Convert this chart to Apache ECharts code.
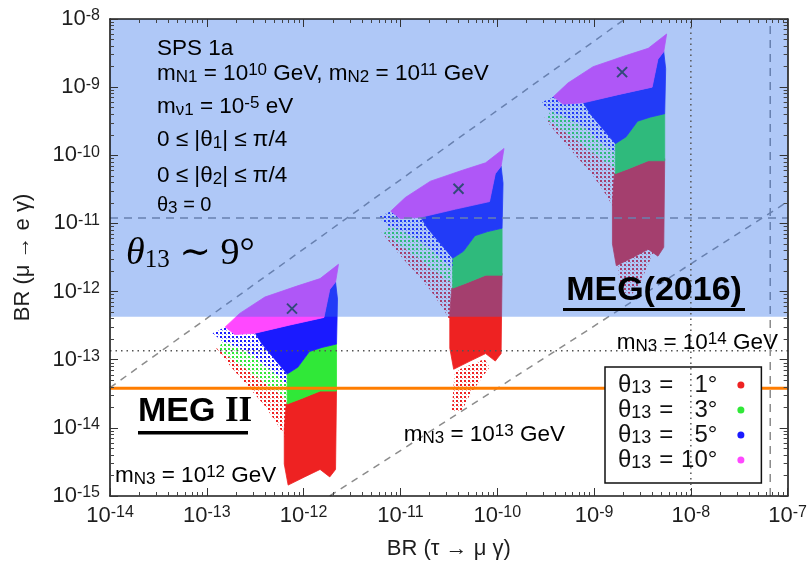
<!DOCTYPE html>
<html><head><meta charset="utf-8">
<script src="https://cdn.jsdelivr.net/npm/echarts@6/dist/echarts.min.js"></script>
<style>html,body{margin:0;padding:0;background:#fff}#c{width:810px;height:570px}</style>
</head><body><div id="c"></div>
<script>
// ---- axis ticks (log10 exponents) ----
const xTickExp = [-14,-13,-12,-11,-10,-9,-8,-7];
const yTickExp = [-15,-14,-13,-12,-11,-10,-9,-8];
const legendNames = ['1°','3°','5°','10°'];

// ---- limits / reference levels (log10 BR) ----
const meg2016Limit = -12.37;   // MEG(2016) 4.2e-13
const meg2Sens = -13.42;       // MEG II
const meg2009Limit = -10.92;   // dashed 1.2e-11
const muDottedLevel = -12.87;  // dotted
const tauDottedLevel = -8.0;   // dotted vertical
const tauDashedLevel = -7.18;  // dashed vertical
const diagUpper = [[-14,-13.41],[-8.68,-8.0]];
const diagLower = [[-11.73,-15],[-7,-10.68]];
const clusterMarkers = [[-12.12,-12.25],[-10.40,-10.49],[-8.71,-8.78]];

// ---- cluster 1 : m_N3 = 10^12 GeV ----
const magenta1 = [[-12.81,-12.52],[-12.66,-12.32],[-12.40,-12.08],[-12.07,-11.92],[-11.83,-11.81],[-11.64,-11.60],[-11.67,-11.86],[-11.73,-11.97],[-11.79,-12.38],[-12.14,-12.49],[-12.50,-12.61],[-12.71,-12.63]];
const blue1 = [[-12.50,-12.61],[-12.14,-12.49],[-11.79,-12.38],[-11.73,-11.97],[-11.67,-11.86],[-11.65,-12.11],[-11.66,-12.77],[-11.81,-12.82],[-11.94,-12.88],[-12.06,-13.11],[-12.17,-13.21],[-12.30,-12.99],[-12.43,-12.77]];
const green1 = [[-12.17,-13.21],[-12.06,-13.11],[-11.94,-12.88],[-11.81,-12.82],[-11.66,-12.77],[-11.66,-13.46],[-11.83,-13.46],[-12.04,-13.58],[-12.17,-13.65]];
const red1 = [[-12.18,-13.65],[-12.04,-13.58],[-11.83,-13.46],[-11.66,-13.43],[-11.67,-14.61],[-11.73,-14.72],[-11.83,-14.61],[-11.99,-14.72],[-12.16,-14.84],[-12.20,-14.53],[-12.20,-14.02]];
const fanBlue1 = [[-12.94,-12.61],[-12.81,-12.52],[-12.71,-12.63],[-12.50,-12.61],[-12.43,-12.77],[-12.30,-12.99],[-12.17,-13.21],[-12.17,-13.36],[-12.33,-13.17],[-12.50,-12.96],[-12.68,-12.82],[-12.84,-12.73]];
const fanGreen1 = [[-12.84,-12.73],[-12.68,-12.82],[-12.50,-12.96],[-12.33,-13.17],[-12.17,-13.36],[-12.17,-13.58],[-12.35,-13.40],[-12.53,-13.20],[-12.71,-13.02],[-12.88,-12.85]];
const fanRed1 = [[-12.88,-12.85],[-12.71,-13.02],[-12.53,-13.20],[-12.35,-13.40],[-12.17,-13.58],[-12.18,-14.17],[-12.27,-13.95],[-12.40,-13.68],[-12.55,-13.43],[-12.73,-13.14],[-12.91,-12.82]];

// ---- cluster 2 : m_N3 = 10^13 GeV ----
const magenta2 = [[-11.10,-10.82],[-10.95,-10.62],[-10.69,-10.38],[-10.36,-10.22],[-10.12,-10.11],[-9.93,-9.90],[-9.96,-10.16],[-10.02,-10.27],[-10.08,-10.68],[-10.43,-10.79],[-10.79,-10.91],[-11.00,-10.93]];
const blue2 = [[-10.79,-10.91],[-10.43,-10.79],[-10.08,-10.68],[-10.02,-10.27],[-9.96,-10.16],[-9.94,-10.41],[-9.95,-11.07],[-10.10,-11.12],[-10.23,-11.18],[-10.35,-11.41],[-10.46,-11.51],[-10.59,-11.29],[-10.72,-11.07]];
const green2 = [[-10.46,-11.51],[-10.35,-11.41],[-10.23,-11.18],[-10.10,-11.12],[-9.95,-11.07],[-9.95,-11.76],[-10.12,-11.76],[-10.33,-11.88],[-10.46,-11.95]];
const red2 = [[-10.47,-11.95],[-10.33,-11.88],[-10.12,-11.76],[-9.95,-11.73],[-9.96,-12.91],[-10.02,-13.02],[-10.12,-12.91],[-10.28,-13.02],[-10.45,-13.14],[-10.49,-12.83],[-10.49,-12.32]];
const tailRed2 = [[-10.44,-13.17],[-10.13,-12.99],[-10.08,-13.11],[-10.28,-13.51],[-10.37,-13.76],[-10.47,-13.76]];
const fanBlue2 = [[-11.23,-10.91],[-11.10,-10.82],[-11.00,-10.93],[-10.79,-10.91],[-10.72,-11.07],[-10.59,-11.29],[-10.46,-11.51],[-10.46,-11.66],[-10.62,-11.47],[-10.79,-11.26],[-10.97,-11.12],[-11.13,-11.03]];
const fanGreen2 = [[-11.13,-11.03],[-10.97,-11.12],[-10.79,-11.26],[-10.62,-11.47],[-10.46,-11.66],[-10.46,-11.88],[-10.64,-11.70],[-10.82,-11.50],[-11.00,-11.32],[-11.17,-11.15]];
const fanRed2 = [[-11.17,-11.15],[-11.00,-11.32],[-10.82,-11.50],[-10.64,-11.70],[-10.46,-11.88],[-10.47,-12.47],[-10.56,-12.25],[-10.69,-11.98],[-10.84,-11.73],[-11.02,-11.44],[-11.20,-11.12]];

// ---- cluster 3 : m_N3 = 10^14 GeV ----
const magenta3 = [[-9.42,-9.14],[-9.27,-8.94],[-9.01,-8.70],[-8.68,-8.54],[-8.44,-8.43],[-8.25,-8.22],[-8.28,-8.48],[-8.34,-8.59],[-8.40,-9.00],[-8.75,-9.11],[-9.11,-9.23],[-9.32,-9.25]];
const blue3 = [[-9.11,-9.23],[-8.75,-9.11],[-8.40,-9.00],[-8.34,-8.59],[-8.28,-8.48],[-8.26,-8.73],[-8.27,-9.39],[-8.42,-9.44],[-8.55,-9.50],[-8.67,-9.73],[-8.78,-9.83],[-8.91,-9.61],[-9.04,-9.39]];
const green3 = [[-8.78,-9.83],[-8.67,-9.73],[-8.55,-9.50],[-8.42,-9.44],[-8.27,-9.39],[-8.27,-10.08],[-8.44,-10.08],[-8.65,-10.20],[-8.78,-10.27]];
const red3 = [[-8.79,-10.27],[-8.65,-10.20],[-8.44,-10.08],[-8.27,-10.05],[-8.28,-11.35],[-8.34,-11.48],[-8.44,-11.38],[-8.60,-11.50],[-8.77,-11.62],[-8.81,-11.30],[-8.81,-10.70]];
const tailRed3 = [[-8.76,-11.56],[-8.42,-11.23],[-8.37,-11.38],[-8.53,-11.89],[-8.61,-12.04],[-8.73,-12.00]];
const fanBlue3 = [[-9.55,-9.23],[-9.42,-9.14],[-9.32,-9.25],[-9.11,-9.23],[-9.04,-9.39],[-8.91,-9.61],[-8.78,-9.83],[-8.78,-9.98],[-8.94,-9.79],[-9.11,-9.58],[-9.29,-9.44],[-9.45,-9.35]];
const fanGreen3 = [[-9.45,-9.35],[-9.29,-9.44],[-9.11,-9.58],[-8.94,-9.79],[-8.78,-9.98],[-8.78,-10.20],[-8.96,-10.02],[-9.14,-9.82],[-9.32,-9.64],[-9.49,-9.47]];
const fanRed3 = [[-9.49,-9.47],[-9.32,-9.64],[-9.14,-9.82],[-8.96,-10.02],[-8.78,-10.20],[-8.79,-10.79],[-8.88,-10.57],[-9.01,-10.30],[-9.16,-10.05],[-9.34,-9.76],[-9.52,-9.44]];

// ---------------------------------------------------------------
const F = "'Liberation Sans', Arial, Helvetica, sans-serif";
const SERIF = "'Liberation Serif', 'DejaVu Serif', serif";

// minor tick positions of the log scale (decoration of the axes)
const minorX = [], minorY = [];
for (let n = xTickExp[0]; n < xTickExp[xTickExp.length-1]; n++) for (let k = 2; k <= 9; k++) minorX.push(n + Math.log10(k));
for (let n = yTickExp[0]; n < yTickExp[yTickExp.length-1]; n++) for (let k = 2; k <= 9; k++) minorY.push(n + Math.log10(k));

const patCache = {};
function dotPattern(color) {
  if (patCache[color]) return patCache[color];
  const cv = document.createElement('canvas');
  cv.width = 4; cv.height = 4;
  const ctx = cv.getContext('2d');
  ctx.fillStyle = color;
  ctx.fillRect(0, 0, 2, 2);
  ctx.globalAlpha = 0.45;
  ctx.fillRect(2, 2, 1, 1);
  patCache[color] = {image: cv, repeat: 'repeat'};
  return patCache[color];
}

function polySeries(name, color, dense, sparse) {
  const polys = dense.map(p => ({pts: p, sparse: false})).concat(sparse.map(p => ({pts: p, sparse: true})));
  return {
    type: 'custom', name, coordinateSystem: 'cartesian2d', xAxisIndex: 0, yAxisIndex: 0,
    z: 2, silent: true, clip: true,
    itemStyle: {color},
    data: polys.map(p => p.pts[0]),
    renderItem(params, api) {
      const p = polys[params.dataIndex];
      const pts = p.pts.map(v => api.coord(v));
      return {
        type: 'polygon', shape: {points: pts},
        style: p.sparse ? {fill: dotPattern(color), stroke: null}
                        : {fill: color, stroke: color, lineWidth: 0.8}
      };
    }
  };
}

function lineSeries(data, style, z) {
  return {type: 'line', data, xAxisIndex: 0, yAxisIndex: 0, symbol: 'none', showSymbol: false,
    silent: true, z, lineStyle: style, animation: false};
}

const xMin = xTickExp[0], xMax = xTickExp[xTickExp.length-1];
const yMin = yTickExp[0], yMax = yTickExp[yTickExp.length-1];

const tickRich = {
  m: {fontSize: 22, lineHeight: 22, fontFamily: F, color: '#1e1e1e'},
  p: {fontSize: 16, lineHeight: 6, verticalAlign: 'top', fontFamily: F, color: '#1e1e1e'}
};
const tickFmt = v => '{m|10}{p|' + v + '}';

function baseAxis(pos, min, max, extra) {
  return Object.assign({
    type: 'value', position: pos, min, max, interval: 1, gridIndex: 0, z: 10,
    splitLine: {show: false},
    axisLine: {show: true, onZero: false, lineStyle: {color: '#1a1a1a', width: 1.6}},
    axisTick: {show: true, inside: true, length: 8, lineStyle: {color: '#333', width: 1}},
    axisLabel: {show: false}
  }, extra);
}
function minorAxis(pos, min, max, vals) {
  return {
    type: 'value', position: pos, min, max, interval: 1, gridIndex: 0, z: 10,
    splitLine: {show: false}, axisLine: {show: false, onZero: false},
    axisLabel: {show: false},
    axisTick: {show: true, inside: true, length: 4, customValues: vals, lineStyle: {color: '#444', width: 1}}
  };
}

const C = '#2b2b2b';
const annRich = (col, size) => ({
  n: {fontSize: size, lineHeight: 24, fontFamily: F, color: col},
  b: {fontSize: 17, lineHeight: 1, verticalAlign: 'bottom', fontFamily: F, color: col},
  p: {fontSize: 17, lineHeight: 12, verticalAlign: 'top', fontFamily: F, color: col}
});
function ann(x, y, text, align, col, size) {
  return {type: 'text', x, y, z: 20, silent: true,
    style: {text, rich: annRich(col || C, size || 22.5), align: align || 'left', verticalAlign: 'middle'}};
}
const TC = '#3a3c44';

const chart = echarts.init(document.getElementById('c'), null, {renderer: 'canvas'});
chart.setOption({
  animation: false,
  backgroundColor: '#ffffff',
  grid: {left: 110, right: 22, top: 19, bottom: 74, containLabel: false},
  xAxis: [
    baseAxis('bottom', xMin, xMax, {
      axisLabel: {show: true, formatter: tickFmt, rich: tickRich, margin: 9, hideOverlap: false},
      name: 'BR (τ → μ γ)', nameLocation: 'middle', nameGap: 42,
      nameTextStyle: {fontSize: 22, fontFamily: F, color: '#1e1e1e'}
    }),
    minorAxis('bottom', xMin, xMax, minorX),
    baseAxis('top', xMin, xMax, {}),
    minorAxis('top', xMin, xMax, minorX)
  ],
  yAxis: [
    baseAxis('left', yMin, yMax, {
      axisLabel: {show: true, formatter: tickFmt, rich: tickRich, margin: 10, hideOverlap: false},
      name: 'BR (μ → e γ)', nameLocation: 'middle', nameGap: 76, nameRotate: 90,
      nameTextStyle: {fontSize: 22, fontFamily: F, color: '#1e1e1e'}
    }),
    minorAxis('left', yMin, yMax, minorY),
    baseAxis('right', yMin, yMax, {}),
    minorAxis('right', yMin, yMax, minorY)
  ],
  legend: {
    data: legendNames, orient: 'vertical', left: 605, top: 367,
    padding: [6, 17, 11, 13], itemGap: 1, itemWidth: 7, itemHeight: 7,
    icon: 'circle', align: 'right', backgroundColor: '#ffffff',
    borderColor: '#111', borderWidth: 1.5, borderRadius: 0, selectedMode: false, z: 7,
    formatter: name => '{t|θ}{s|13}{e|=}{n|' + name + '}{sp|}',
    textStyle: {rich: {
      t: {fontSize: 24, lineHeight: 24, fontFamily: F, color: '#111'},
      s: {fontSize: 18, lineHeight: 2, verticalAlign: 'bottom', fontFamily: F, color: '#111'},
      e: {fontSize: 24, lineHeight: 24, fontFamily: F, color: '#111', padding: [0, 0, 0, 8]},
      n: {fontSize: 24, lineHeight: 24, fontFamily: F, color: '#111', width: 44, align: 'right'},
      sp: {width: 15}
    }}
  },
  series: [
    polySeries('1°', '#ee2222', [red1, red2, red3], [fanRed1, fanRed2, fanRed3, tailRed2, tailRed3]),
    polySeries('3°', '#30e838', [green1, green2, green3], [fanGreen1, fanGreen2, fanGreen3]),
    polySeries('5°', '#1a1aff', [blue1, blue2, blue3], [fanBlue1, fanBlue2, fanBlue3]),
    polySeries('10°', '#ff48ff', [magenta1, magenta2, magenta3], []),
    {
      type: 'custom', coordinateSystem: 'cartesian2d', xAxisIndex: 0, yAxisIndex: 0, z: 3, silent: true,
      data: clusterMarkers,
      renderItem(params, api) {
        const c = api.coord([api.value(0), api.value(1)]);
        const s = 5;
        const st = {stroke: '#333', lineWidth: 2};
        return {type: 'group', children: [
          {type: 'line', shape: {x1: c[0]-s, y1: c[1]-s, x2: c[0]+s, y2: c[1]+s}, style: st},
          {type: 'line', shape: {x1: c[0]-s, y1: c[1]+s, x2: c[0]+s, y2: c[1]-s}, style: st}
        ]};
      }
    },
    lineSeries(diagUpper, {color: '#8c8c8c', width: 1.5, type: [7, 6]}, 4),
    lineSeries(diagLower, {color: '#8c8c8c', width: 1.5, type: [7, 6]}, 4),
    lineSeries([[xMin, meg2009Limit], [xMax, meg2009Limit]], {color: '#8c8c8c', width: 1.5, type: [8, 6]}, 4),
    lineSeries([[xMin, muDottedLevel], [xMax, muDottedLevel]], {color: '#555', width: 1.5, type: [1.5, 4]}, 4),
    lineSeries([[tauDashedLevel, yMin], [tauDashedLevel, yMax]], {color: '#8c8c8c', width: 1.5, type: [8, 6]}, 4),
    {
      type: 'custom', coordinateSystem: 'cartesian2d', xAxisIndex: 0, yAxisIndex: 0, z: 5, silent: true,
      data: [[xMin, meg2016Limit]],
      renderItem(params, api) {
        const p0 = api.coord([xMin, yMax]);
        const p1 = api.coord([xMax, api.value(1)]);
        return {type: 'rect', shape: {x: p0[0], y: p0[1], width: p1[0]-p0[0], height: p1[1]-p0[1]},
          style: {fill: 'rgba(47,112,234,0.385)'}};
      }
    },
    lineSeries([[xMin, meg2Sens], [xMax, meg2Sens]], {color: '#ff7d00', width: 3}, 6),
    lineSeries([[tauDottedLevel, yMin], [tauDottedLevel, yMax]], {color: '#555', width: 1.5, type: [1.5, 4]}, 8)
  ],
  graphic: [
    ann(157, 49, '{n|SPS 1a}', 'left', TC),
    ann(157, 74, '{n|m}{b|N1}{n| = 10}{p|10}{n| GeV, m}{b|N2}{n| = 10}{p|11}{n| GeV}', 'left', TC),
    ann(157, 107, '{n|m}{b|ν1}{n| = 10}{p|-5}{n| eV}', 'left', TC),
    ann(157, 139.5, '{n|0 ≤ |θ}{b|1}{n|| ≤ π/4}', 'left', TC),
    ann(157, 175.5, '{n|0 ≤ |θ}{b|2}{n|| ≤ π/4}', 'left', TC),
    ann(157, 205, '{n|θ}{b|3}{n| = 0}', 'left', TC, 20),
    {type: 'text', x: 126, y: 254, z: 20, silent: true, style: {
      text: '{tt|θ}{tu|13}{tn| ∼ 9°}', align: 'left', verticalAlign: 'middle',
      rich: {
        tt: {fontSize: 38, lineHeight: 38, fontFamily: SERIF, fontStyle: 'italic', color: '#000'},
        tu: {fontSize: 25, lineHeight: 14, verticalAlign: 'bottom', fontFamily: SERIF, color: '#000'},
        tn: {fontSize: 38, lineHeight: 38, fontFamily: SERIF, color: '#000'}
      }}},
    {type: 'text', x: 654, y: 291, z: 20, silent: true, style: {
      text: 'MEG(2016)', font: "bold 34px 'Liberation Sans', Arial, sans-serif", fill: '#000',
      align: 'center', verticalAlign: 'middle'}},
    {type: 'rect', z: 20, silent: true, shape: {x: 563, y: 308, width: 182, height: 3}, style: {fill: '#000'}},
    {type: 'text', x: 138, y: 411.5, z: 20, silent: true, style: {
      text: '{a|MEG }{r|II}', align: 'left', verticalAlign: 'middle',
      rich: {
        a: {fontSize: 34, fontWeight: 'bold', fontFamily: F, color: '#000', lineHeight: 36},
        r: {fontSize: 35, fontWeight: 'bold', fontFamily: SERIF, color: '#000', lineHeight: 36}
      }}},
    {type: 'rect', z: 20, silent: true, shape: {x: 138, y: 431, width: 110, height: 3.5}, style: {fill: '#000'}},
    ann(778, 342.5, '{n|m}{b|N3}{n| = 10}{p|14}{n| GeV}', 'right'),
    ann(565, 434.5, '{n|m}{b|N3}{n| = 10}{p|13}{n| GeV}', 'right'),
    ann(115, 476, '{n|m}{b|N3}{n| = 10}{p|12}{n| GeV}', 'left')
  ]
});
</script></body></html>
